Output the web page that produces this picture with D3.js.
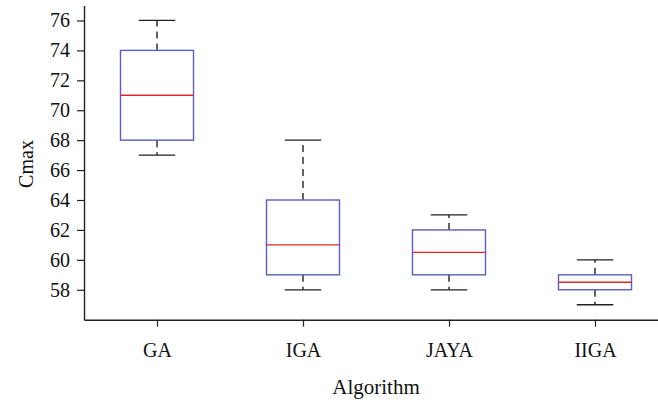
<!DOCTYPE html>
<html>
<head>
<meta charset="utf-8">
<script src="https://cdn.jsdelivr.net/npm/d3@7"></script>
<style>
  body { margin: 0; background: #fff; }
</style>
</head>
<body>
<div id="chart"></div>
<script>
const algorithms = ["GA", "IGA", "JAYA", "IIGA"];
const lowerWhisker = [67, 58, 58, 57];
const q1 = [68, 59, 59, 58];
const median = [71, 61, 60.5, 58.5];
const q3 = [74, 64, 62, 59];
const upperWhisker = [76, 68, 63, 60];
const yTicks = [58, 60, 62, 64, 66, 68, 70, 72, 74, 76];

const width = 658, height = 403;
const font = "'Liberation Serif', 'Times New Roman', serif";

const svg = d3.select("#chart").append("svg")
  .attr("width", width)
  .attr("height", height);

const x = d3.scaleLinear().domain([0.5, 4.5]).range([84, 668]);
const y = d3.scaleLinear().domain([56, 77]).range([319.7, 5.5]);

const boxes = algorithms.map((name, i) => ({
  name, pos: i + 1,
  lo: lowerWhisker[i], q1: q1[i], med: median[i], q3: q3[i], hi: upperWhisker[i]
}));

// axes
const yAxis = svg.append("g")
  .attr("transform", `translate(${x(0.5)},0)`)
  .call(d3.axisLeft(y).tickValues(yTicks).tickSize(7).tickPadding(7).tickSizeOuter(0));

const xAxis = svg.append("g")
  .attr("transform", `translate(0,${y(56)})`)
  .call(d3.axisBottom(x).tickValues([1, 2, 3, 4]).tickFormat(d => algorithms[d - 1])
    .tickSize(7).tickPadding(16).tickSizeOuter(0));

[yAxis, xAxis].forEach(g => {
  g.selectAll(".domain").attr("stroke", "#222").attr("stroke-width", 1.4);
  g.selectAll(".tick line").attr("stroke", "#222").attr("stroke-width", 1.2);
  g.selectAll("text").attr("font-family", font).attr("font-size", 20).attr("fill", "#111");
});

// boxes and whiskers
const boxW = 0.5, capW = 0.25;
const g = svg.append("g");

boxes.forEach(d => {
  const cx = x(d.pos);
  g.append("line")
    .attr("x1", cx).attr("x2", cx)
    .attr("y1", y(d.q3)).attr("y2", y(d.hi))
    .attr("stroke", "#111").attr("stroke-width", 1.3)
    .attr("stroke-dasharray", "7,5");
  g.append("line")
    .attr("x1", cx).attr("x2", cx)
    .attr("y1", y(d.q1)).attr("y2", y(d.lo))
    .attr("stroke", "#111").attr("stroke-width", 1.3)
    .attr("stroke-dasharray", "7,5");
  [d.lo, d.hi].forEach(v => {
    g.append("line")
      .attr("x1", x(d.pos - capW / 2)).attr("x2", x(d.pos + capW / 2))
      .attr("y1", y(v)).attr("y2", y(v))
      .attr("stroke", "#222").attr("stroke-width", 1.3);
  });
  g.append("rect")
    .attr("x", x(d.pos - boxW / 2))
    .attr("width", x(d.pos + boxW / 2) - x(d.pos - boxW / 2))
    .attr("y", y(d.q3))
    .attr("height", y(d.q1) - y(d.q3))
    .attr("fill", "none")
    .attr("stroke", "#5a5fc0").attr("stroke-width", 1.4);
  g.append("line")
    .attr("x1", x(d.pos - boxW / 2)).attr("x2", x(d.pos + boxW / 2))
    .attr("y1", y(d.med)).attr("y2", y(d.med))
    .attr("stroke", "#e0262a").attr("stroke-width", 1.4);
});

// axis titles
svg.append("text")
  .attr("x", 376).attr("y", 394)
  .attr("text-anchor", "middle")
  .attr("font-family", font).attr("font-size", 21).attr("fill", "#111")
  .text("Algorithm");

svg.append("text")
  .attr("transform", "translate(33,164) rotate(-90)")
  .attr("text-anchor", "middle")
  .attr("font-family", font).attr("font-size", 20).attr("fill", "#111")
  .text("Cmax");
</script>
</body>
</html>
